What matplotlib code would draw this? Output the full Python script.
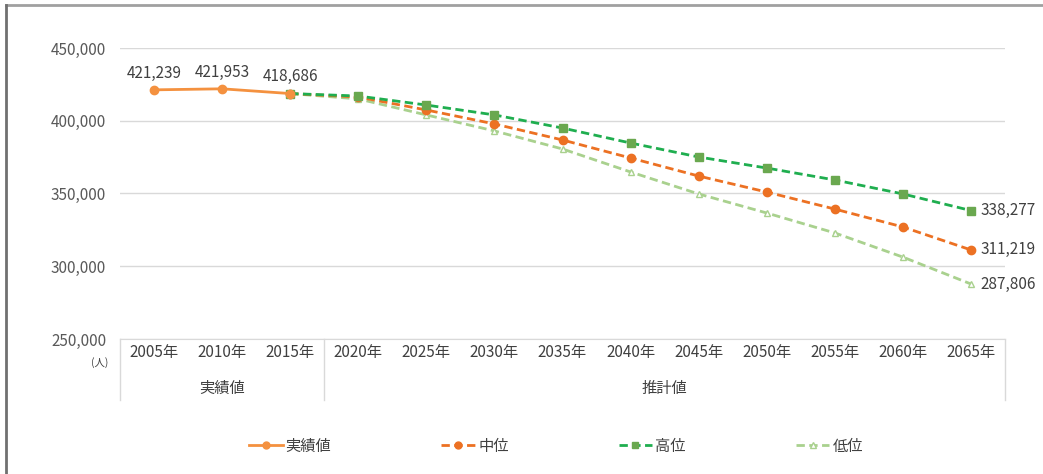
import matplotlib.pyplot as plt
from matplotlib.lines import Line2D

plt.rcParams['font.family'] = ['Noto Sans CJK JP', 'DejaVu Sans']

years = ['2005年', '2010年', '2015年', '2020年', '2025年', '2030年', '2035年',
         '2040年', '2045年', '2050年', '2055年', '2060年', '2065年']
actual = [421239, 421953, 418686]
middle = [418686, 416300, 407400, 397800, 386800, 374400, 362000, 351000, 339300, 327000, 311219]
high = [418686, 417000, 410800, 404000, 395000, 384700, 375100, 367500, 359300, 349700, 338277]
low = [418686, 415000, 404000, 393000, 380600, 364800, 349700, 336600, 322900, 306300, 287806]
groups = ['実績値', '推計値']
series_names = ['実績値', '中位', '高位', '低位']

c_act = '#f4913f'
c_mid = '#ec7123'
c_high = '#1fae4f'
c_high_m = '#6aa84f'
c_low = '#a9d18e'

fig = plt.figure(figsize=(10.43, 4.74), dpi=100)
ax = fig.add_axes([120 / 1043, 135 / 474, 885 / 1043, 291 / 474])

xa = list(range(len(actual)))
xp = list(range(2, len(years)))

ax.plot(xa, actual, color=c_act, lw=2, marker='o', ms=6, zorder=5)
ax.plot(xp, low, color=c_low, lw=2, ls=(0, (3, 1.6)), marker='^', ms=5,
        mfc='white', mec=c_low, zorder=3)
ax.plot(xp, middle, color=c_mid, lw=2, ls=(0, (3, 1.6)), marker='o', ms=6, zorder=3)
ax.plot(xp, high, color=c_high, lw=2, ls=(0, (3, 1.6)), marker='s', ms=6,
        mfc=c_high_m, mec=c_high_m, zorder=4)

ax.set_xlim(-0.5, len(years) - 0.5)
ax.set_ylim(250000, 450000)
ax.set_yticks(range(250000, 450001, 50000))
ax.set_yticklabels([f'{v:,}' for v in range(250000, 450001, 50000)], fontsize=11, color='#595959')
ax.yaxis.grid(True, color='#d9d9d9', lw=1)
ax.set_axisbelow(True)
for s in ['top', 'right', 'left']:
    ax.spines[s].set_visible(False)
ax.spines['bottom'].set_color('#d9d9d9')
ax.tick_params(axis='y', length=0, pad=10)
ax.tick_params(axis='x', length=0)
ax.set_xticks(range(len(years)))
ax.set_xticklabels(years, fontsize=11, color='#404040')

for i, v in enumerate(actual):
    ax.annotate(f'{v:,}', (i, v), xytext=(0, 6), textcoords='offset points',
                ha='center', va='bottom', fontsize=11, color='#404040')
for arr in (high, middle, low):
    ax.annotate(f'{arr[-1]:,}', (xp[-1], arr[-1]), xytext=(7, 0), textcoords='offset points',
                ha='left', va='center', fontsize=11, color='#404040')

# group labels and dividers under the axis
trans = ax.get_xaxis_transform()
for xv in (-0.5, 2.5, len(years) - 0.5):
    ax.add_line(Line2D([xv, xv], [0, -0.21], transform=trans, color='#d9d9d9', lw=1, clip_on=False))
ax.text(1, -0.17, groups[0], transform=trans, ha='center', va='center', fontsize=11, color='#404040')
ax.text(7.5, -0.17, groups[1], transform=trans, ha='center', va='center', fontsize=11, color='#404040')
fig.text(108 / 1043, 1 - 363 / 474, '(人)', ha='right', va='center', fontsize=7.5, color='#404040')

handles = [
    Line2D([], [], color=c_act, lw=2, marker='o', ms=5),
    Line2D([], [], color=c_mid, lw=2, ls=(0, (3, 1.6)), marker='o', ms=5),
    Line2D([], [], color=c_high, lw=2, ls=(0, (3, 1.6)), marker='s', ms=5, mfc=c_high_m, mec=c_high_m),
    Line2D([], [], color=c_low, lw=2, ls=(0, (3, 1.6)), marker='^', ms=5, mfc='white', mec=c_low),
]
fig.legend(handles, series_names, loc='center', bbox_to_anchor=(556 / 1043, 28 / 474), ncol=4,
           frameon=False, fontsize=11, handlelength=2.2, handletextpad=0.2, columnspacing=7.2,
           labelcolor='#404040')

# outer frame
fig.add_artist(Line2D([6 / 1043, 1], [1 - 5 / 474, 1 - 5 / 474], transform=fig.transFigure,
                      color='#a0a0a0', lw=2))
fig.add_artist(Line2D([6 / 1043, 6 / 1043], [0, 1 - 5 / 474], transform=fig.transFigure,
                      color='#707070', lw=2))

fig.savefig('out.png', dpi=100)
